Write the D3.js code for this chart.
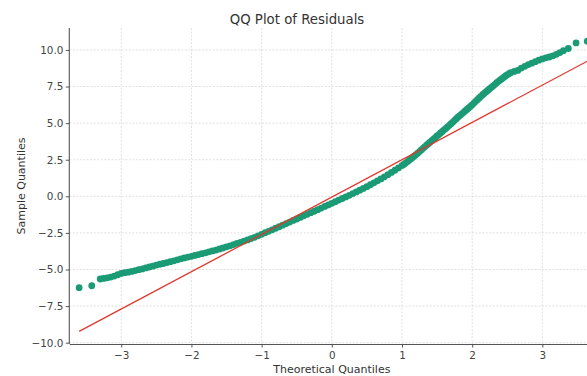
<!DOCTYPE html>
<html>
<head>
<meta charset="utf-8">
<script src="https://cdn.jsdelivr.net/npm/d3@7"></script>
<style>
  html, body { margin: 0; padding: 0; background: #fff; }
  svg { display: block; font-family: "DejaVu Sans", sans-serif; }
</style>
</head>
<body>
<svg id="chart" width="587" height="376"></svg>
<script>
// ---- data ----
const theoretical = [
  -3.60, -3.42,
  -3.30, -3.25, -3.20, -3.15, -3.10, -3.05, -3.00, -2.95, -2.90, -2.85,
  -2.80, -2.75, -2.70, -2.65, -2.60, -2.55, -2.50, -2.45, -2.40, -2.35,
  -2.30, -2.25, -2.20, -2.15, -2.10, -2.05, -2.00, -1.95, -1.90, -1.85,
  -1.80, -1.75, -1.70, -1.65, -1.60, -1.55, -1.50, -1.45, -1.40, -1.35,
  -1.30, -1.25, -1.20, -1.15, -1.10, -1.05, -1.00, -0.95, -0.90, -0.85,
  -0.80, -0.75, -0.70, -0.65, -0.60, -0.55, -0.50, -0.45, -0.40, -0.35,
  -0.30, -0.25, -0.20, -0.15, -0.10, -0.05, 0.00, 0.05, 0.10, 0.15,
  0.20, 0.25, 0.30, 0.35, 0.40, 0.45, 0.50, 0.55, 0.60, 0.65,
  0.70, 0.75, 0.80, 0.85, 0.90, 0.95,
  1.000, 1.025, 1.050, 1.075, 1.100, 1.125, 1.150, 1.175, 1.200, 1.225,
  1.250, 1.275, 1.300, 1.325, 1.350, 1.375, 1.400, 1.425, 1.450, 1.475,
  1.500, 1.525, 1.550, 1.575, 1.600, 1.625, 1.650, 1.675, 1.700, 1.725,
  1.750, 1.775, 1.800, 1.825, 1.850, 1.875, 1.900, 1.925, 1.950, 1.975,
  2.000, 2.025, 2.050, 2.075, 2.100, 2.125, 2.150, 2.175, 2.200, 2.225,
  2.250, 2.275, 2.300, 2.325, 2.350, 2.375, 2.400, 2.425, 2.450, 2.475,
  2.500, 2.525, 2.550,
  2.60, 2.65, 2.70, 2.75, 2.80, 2.85, 2.90, 2.95, 3.00, 3.05,
  3.10, 3.15, 3.20, 3.25, 3.30,
  3.37, 3.48, 3.64
];
const sample = [
  -6.24, -6.11,
  -5.65, -5.61, -5.57, -5.52, -5.45, -5.36, -5.27, -5.22, -5.18, -5.13,
  -5.07, -5.01, -4.96, -4.89, -4.83, -4.77, -4.70, -4.64, -4.59, -4.53,
  -4.47, -4.41, -4.34, -4.27, -4.21, -4.15, -4.10, -4.04, -3.98, -3.92,
  -3.86, -3.79, -3.73, -3.67, -3.60, -3.53, -3.45, -3.38, -3.30, -3.21,
  -3.14, -3.06, -2.98, -2.89, -2.80, -2.70, -2.60, -2.49, -2.39, -2.29,
  -2.18, -2.08, -1.97, -1.86, -1.76, -1.65, -1.55, -1.44, -1.33, -1.23,
  -1.12, -1.02, -0.91, -0.80, -0.69, -0.59, -0.48, -0.37, -0.26, -0.15,
  -0.04, 0.07, 0.19, 0.30, 0.42, 0.54, 0.66, 0.79, 0.92, 1.06,
  1.19, 1.33, 1.48, 1.63, 1.78, 1.94,
  2.10, 2.18, 2.27, 2.36, 2.46, 2.55, 2.65, 2.75, 2.85, 2.95,
  3.06, 3.17, 3.28, 3.38, 3.49, 3.60, 3.70, 3.80, 3.91, 4.01,
  4.12, 4.22, 4.33, 4.43, 4.54, 4.64, 4.75, 4.85, 4.96, 5.07,
  5.19, 5.30, 5.42, 5.52, 5.62, 5.72, 5.83, 5.93, 6.04, 6.14,
  6.25, 6.37, 6.49, 6.60, 6.72, 6.83, 6.94, 7.05, 7.15, 7.25,
  7.35, 7.45, 7.55, 7.65, 7.76, 7.86, 7.95, 8.04, 8.13, 8.22,
  8.30, 8.38, 8.45,
  8.53, 8.60, 8.76, 8.88, 9.00, 9.10, 9.20, 9.30, 9.39, 9.46,
  9.52, 9.60, 9.70, 9.82, 9.95,
  10.10, 10.48, 10.60
];
// reference (fitted) line end points
const refLineX = [-3.60, 3.64];
const refLineY = [-9.23, 9.23];
// tick labels
const xTicks = [-3, -2, -1, 0, 1, 2, 3];
const yTicks = [-10.0, -7.5, -5.0, -2.5, 0.0, 2.5, 5.0, 7.5, 10.0];
const titleText = "QQ Plot of Residuals";
const xLabelText = "Theoretical Quantiles";
const yLabelText = "Sample Quantiles";

// ---- layout ----
const svg = d3.select("#chart");
const plot = { left: 69.3, right: 594.3, top: 28, bottom: 344 };
const x = d3.scaleLinear().domain([-3.74, 3.74]).range([plot.left, plot.right]);
const y = d3.scaleLinear().domain([-10.09, 11.5]).range([plot.bottom, plot.top]);

const gridColor = "#d9d9d9";
const axisColor = "#555";
const tickTextColor = "#444";

// grid
const grid = svg.append("g");
grid.selectAll("line.gx").data(xTicks).join("line")
  .attr("x1", d => x(d)).attr("x2", d => x(d))
  .attr("y1", plot.top).attr("y2", plot.bottom)
  .attr("stroke", gridColor).attr("stroke-width", 0.8)
  .attr("stroke-dasharray", "2,1.5");
grid.selectAll("line.gy").data(yTicks).join("line")
  .attr("x1", plot.left).attr("x2", plot.right)
  .attr("y1", d => y(d)).attr("y2", d => y(d))
  .attr("stroke", gridColor).attr("stroke-width", 0.8)
  .attr("stroke-dasharray", "2,1.5");

// points
const pts = theoretical.map((t, i) => ({ t, s: sample[i] }));
svg.append("g").selectAll("circle").data(pts).join("circle")
  .attr("cx", d => x(d.t)).attr("cy", d => y(d.s))
  .attr("r", 3.4)
  .attr("fill", "#1b9b75");

// reference line
const line = d3.line().x(d => x(d[0])).y(d => y(d[1]));
svg.append("path")
  .datum(refLineX.map((v, i) => [v, refLineY[i]]))
  .attr("d", line)
  .attr("fill", "none")
  .attr("stroke", "#e2362c")
  .attr("stroke-width", 1.3);

// axes
const fmtY = d => d3.format(".1f")(d).replace("-", "\u2212");
const fmtX = d => String(d).replace("-", "\u2212");

const gx = svg.append("g").attr("transform", `translate(0,${plot.bottom})`)
  .call(d3.axisBottom(x).tickValues(xTicks).tickFormat(fmtX).tickSize(3.5).tickPadding(4).tickSizeOuter(0));
const gy = svg.append("g").attr("transform", `translate(${plot.left},0)`)
  .call(d3.axisLeft(y).tickValues(yTicks).tickFormat(fmtY).tickSize(3.5).tickPadding(2.5).tickSizeOuter(0));

[gx, gy].forEach(g => {
  g.select(".domain").attr("stroke", axisColor).attr("stroke-width", 1.1);
  g.selectAll(".tick line").attr("stroke", axisColor).attr("stroke-width", 1);
  g.selectAll(".tick text").attr("fill", tickTextColor)
    .style("font-family", "'DejaVu Sans', sans-serif").style("font-size", "10.4px");
});
gy.select(".domain").attr("d", `M0,${plot.top}V${plot.bottom}`);

// title and labels
svg.append("text").attr("x", 297).attr("y", 23.5)
  .attr("text-anchor", "middle").attr("fill", "#333")
  .style("font-size", "13.3px").text(titleText);
svg.append("text").attr("x", x(0)).attr("y", 373)
  .attr("text-anchor", "middle").attr("fill", "#333")
  .style("font-size", "11px").text(xLabelText);
svg.append("text")
  .attr("transform", `translate(24.5,${(plot.top + plot.bottom) / 2}) rotate(-90)`)
  .attr("text-anchor", "middle").attr("fill", "#333")
  .style("font-size", "11px").text(yLabelText);
</script>
</body>
</html>
